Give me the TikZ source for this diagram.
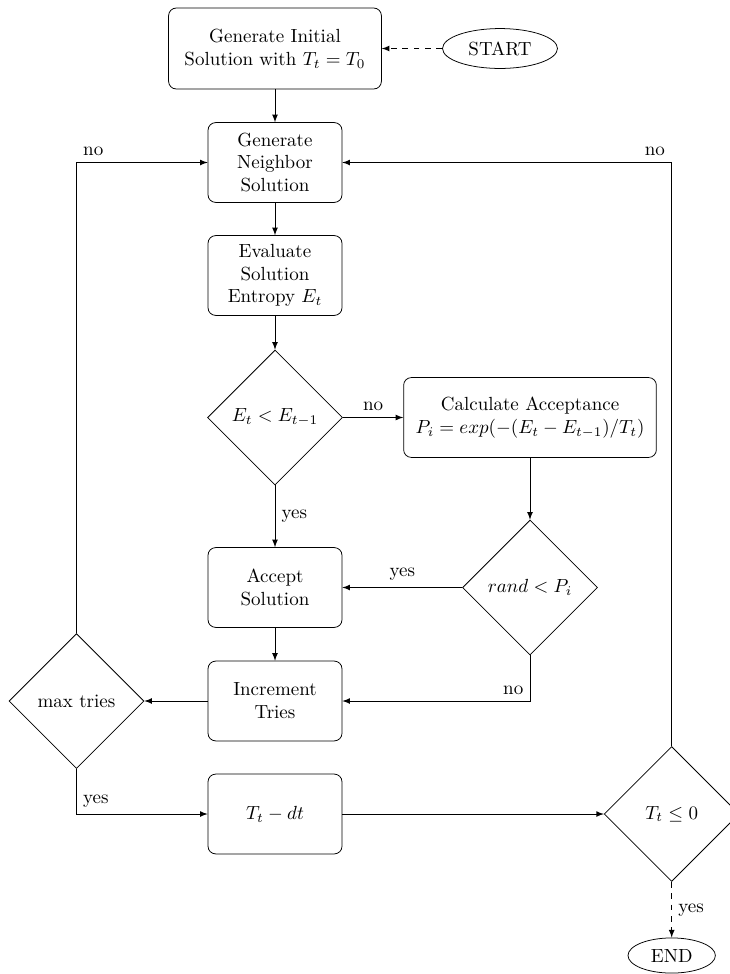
\documentclass[tikz,border=0pt]{standalone}
\usetikzlibrary{shapes.geometric}

\tikzset{
  procbox/.style={draw, rounded corners=4pt, align=center, inner sep=4pt,
    minimum width=70.5pt, minimum height=42pt},
  decision/.style={draw, diamond, aspect=1, align=center, inner sep=1pt,
    minimum width=71pt, minimum height=71pt},
  terminal/.style={draw, ellipse, inner sep=1pt},
  flow/.style={-latex},
  lbl/.style={inner sep=3.33pt}
}

\begin{document}
\begin{tikzpicture}[x=0.5263pt, y=-0.5263pt]
  \useasboundingbox (0,0) rectangle (730,974);

  % main column
  \node[procbox, minimum width=112pt, minimum height=42.6pt] (init) at (275,48.5)
    {Generate Initial\\ Solution with $T_t = T_0$};
  \node[terminal, minimum width=60.5pt, minimum height=21pt] (start) at (500,48.5) {START};
  \node[procbox] (neigh) at (275,162.5) {Generate\\ Neighbor\\ Solution};
  \node[procbox] (eval) at (275,275.5) {Evaluate\\ Solution\\ Entropy $E_t$};
  \node[decision] (dE) at (275,417.5) {$E_t < E_{t-1}$};
  \node[procbox, minimum width=133pt] (calc) at (530,417.5)
    {Calculate Acceptance\\ $P_i = exp(-(E_t - E_{t-1})/T_t)$};
  \node[decision] (rand) at (530,587.5) {$rand < P_i$};
  \node[procbox] (accept) at (275,587.5) {Accept\\ Solution};
  \node[procbox] (incr) at (275,701) {Increment\\ Tries};
  \node[decision] (maxt) at (76.5,701) {max tries};
  \node[procbox] (dec) at (275,814) {$T_t - dt$};
  \node[decision] (dT) at (671.7,814) {$T_t \leq 0$};
  \node[terminal, minimum width=46pt, minimum height=18.5pt] (end) at (671.7,955.5) {END};

  % connectors
  \draw[flow, dashed] (start.west) -- (init.east);
  \draw[flow] (init) -- (neigh);
  \draw[flow] (neigh) -- (eval);
  \draw[flow] (eval) -- (dE);
  \draw[flow] (dE.east) -- node[lbl, midway, above] {no} (calc.west);
  \draw[flow] (dE.south) -- node[lbl, midway, right] {yes} (accept.north);
  \draw[flow] (calc.south) -- (rand.north);
  \draw[flow] (rand.west) -- node[lbl, midway, above] {yes} (accept.east);
  \draw[flow] (rand.south) |- node[lbl, pos=0.5, above left] {no} (incr.east);
  \draw[flow] (accept) -- (incr);
  \draw[flow] (incr.west) -- (maxt.east);
  \draw[flow] (maxt.north) |- node[lbl, pos=0.5, above right] {no} (neigh.west);
  \draw[flow] (maxt.south) |- node[lbl, pos=0.5, above right] {yes} (dec.west);
  \draw[flow] (dec.east) -- (dT.west);
  \draw[flow] (dT.north) |- node[lbl, pos=0.5, above left] {no} (neigh.east);
  \draw[flow, dashed] (dT.south) -- node[lbl, midway, right] {yes} (end.north);
\end{tikzpicture}
\end{document}
